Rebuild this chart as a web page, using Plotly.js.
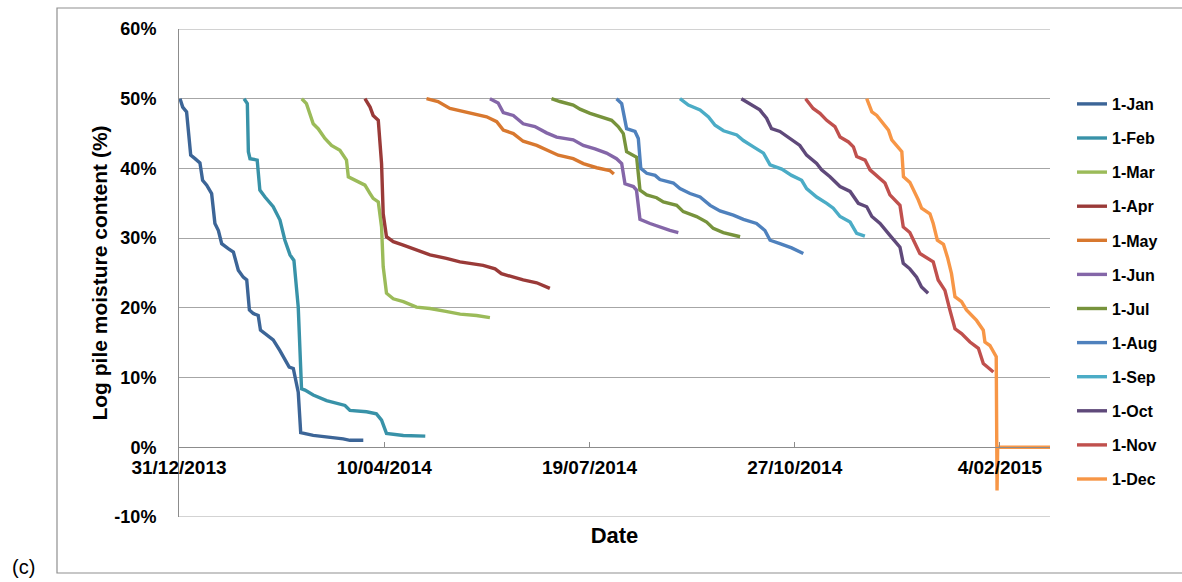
<!DOCTYPE html>
<html><head><meta charset="utf-8">
<script src="https://cdn.plot.ly/plotly-3.0.1.min.js"></script>
<style>html,body{margin:0;padding:0;background:#fff}#chart{width:1182px;height:582px}</style>
</head><body><div id="chart"></div>
<script>
// Day offsets from 31/12/2013 and moisture content (%)
const seriesNames = ['1-Jan','1-Feb','1-Mar','1-Apr','1-May','1-Jun','1-Jul','1-Aug','1-Sep','1-Oct','1-Nov','1-Dec'];
const seriesColors = ['#3C6597','#3892A8','#9BBB59','#9A3A38','#D8782F','#8466A8','#77933C','#4F81BD','#4BACC6','#5F497A','#C0504D','#F79646'];

const janDays = [0.5,1.8,3.7,5.7,7.8,10.2,11.5,13.5,15.9,17.5,19.2,20.8,24,26.5,28.9,31.3,33,34.3,36.2,38.6,39.7,42.6,45.9,49.1,51.6,53.7,55.7,57,58.1,59.3,65.4,80,83.3,89.8];
const janVals = [50,48.8,48.1,41.9,41.4,40.8,38.3,37.6,36.4,32.1,31.1,29.2,28.5,28.0,25.4,24.4,24.0,19.7,19.2,18.9,16.8,16.1,15.4,13.9,12.7,11.5,11.3,9.1,7.9,2.1,1.7,1.2,1.0,1.0];

const febDays = [31.7,33.3,33.8,34.6,38.1,39.4,41.9,45.9,49.2,51.6,54.1,56,58.1,59.7,61.4,65.4,71.9,80.9,83.3,91.4,96.2,98.7,101.1,109.3,120];
const febVals = [50,49.3,42.4,41.4,41.2,36.9,35.9,34.5,32.6,29.7,27.6,26.8,20.1,8.4,8.2,7.5,6.7,6.0,5.3,5.1,4.8,3.9,2.0,1.7,1.6];

const marDays = [59.8,62.1,65.4,67.8,71.1,74.3,78.4,81.6,82.5,85.7,90.6,93.1,94.6,97.1,98.7,99.5,101.1,104.4,109.3,115.7,122.3,130,137,145,151.5];
const marVals = [50,49.3,46.4,45.7,44.3,43.3,42.6,41.2,38.8,38.3,37.6,36.4,35.7,35.2,31.6,25.9,22.1,21.3,20.9,20.1,19.9,19.5,19.1,18.9,18.6];

const aprDays = [90.6,93.1,94.6,97.1,98.7,99.5,101.1,104.4,109.3,115.7,122.3,130.3,136.9,148.2,154,157.1,162.9,167.7,174.3,180.7];
const aprVals = [50,48.8,47.6,46.9,40.7,33.5,30.2,29.5,29.0,28.3,27.6,27.1,26.6,26.1,25.6,24.9,24.4,24.0,23.6,22.8];

const mayDays = [120.6,126.2,132,136.9,143.4,149.9,154.8,158,162.9,167.7,174.3,180.7,184.8,192.1,197,203.5,209.9,211.9];
const mayVals = [50,49.6,48.6,48.3,47.9,47.4,46.7,45.5,45.0,43.9,43.3,42.4,41.9,41.4,40.7,40.1,39.7,39.2];

const junDays = [151.5,155.5,158,162.9,167.7,173.4,179.1,184,192.1,197,202.7,208.3,213.2,215.7,217.3,221.4,222.9,224.6,229.5,234.3,239.2,243.3];
const junVals = [50,49.4,48.0,47.6,46.4,46.0,45.1,44.5,44.1,43.3,42.8,42.2,41.4,40.7,37.8,37.4,36.9,32.7,32.1,31.6,31.1,30.8];

const julDays = [181.5,185.6,192.1,195.4,200.3,205.1,210.8,214,216.5,218.1,223,224.6,227.9,232.7,236,242.5,245.7,252.2,257.1,260.3,265.2,273.4];
const julVals = [50,49.6,49.1,48.5,47.9,47.5,46.9,46.0,45.0,42.4,41.6,36.9,36.2,35.8,35.2,34.7,33.8,33.1,32.3,31.4,30.8,30.2];

const augDays = [213.2,215.7,218.1,222.2,223.8,225,227.9,232,234.3,240.9,244.1,249,253.9,258.8,263.6,270.1,275,281.4,285.5,288,292.8,298.5,304.2];
const augVals = [50,49.3,45.7,45.3,44.3,40.0,39.3,39.0,38.4,37.9,37.1,36.4,35.9,34.7,33.9,33.3,32.7,32.1,31.1,29.7,29.2,28.6,27.8];

const sepDays = [244.1,248.2,253.9,258,261.2,265.3,271.8,275,279.9,284.8,288,293.7,298.5,303.4,305.8,310.7,315.6,318.8,322.1,327,330.2,334.2];
const sepVals = [50,49.1,48.4,47.4,46.2,45.4,44.8,44.0,43.1,42.2,40.5,39.9,39.0,38.3,37.1,35.9,35.0,34.3,33.1,32.3,30.7,30.3];

const octDays = [274,278.2,283,286.3,288.7,292.8,296.8,302.5,305.8,310.7,313.1,317.2,322.1,327,331,335.1,337.6,341.6,346.4,351.3,352.9,356.1,359.4,361.8,365];
const octVals = [50,49.3,48.4,47.2,45.7,45.3,44.5,43.3,41.9,40.7,39.8,38.8,37.4,36.7,35.0,34.5,33.1,32.1,30.4,28.7,26.4,25.6,24.4,23.0,22.1];

const novDays = [305.3,309,312.3,315.6,319.6,322.1,326.2,328.6,330.2,334.3,336.7,340.8,344,346.4,351.3,352.9,356.1,361,367.5,369.9,373.2,375.6,378.1,381.3,385.4,389.5,391.9,396.8];
const novVals = [50,48.6,47.9,46.9,46.0,44.5,43.8,43.1,41.7,41.2,39.8,38.8,37.9,36.2,34.7,31.6,30.8,27.8,26.6,24.0,22.5,19.7,17.0,16.3,15.1,14.2,12.0,10.8];

const decDays = [335.1,337.6,340,343.2,345.7,347.3,349.8,352.2,353,356.1,360.2,361.8,365.9,367.5,369.5,372.5,374.5,376.4,378.1,381.3,383.7,388.6,391.9,392.7,395.1,398.2,398.6,398.9,424.4];
const decVals = [50,48.1,47.6,46.4,45.5,44.1,43.3,42.4,38.8,38.0,35.5,34.3,33.5,32.1,29.7,29.1,27.2,24.9,21.6,20.9,19.7,18.2,16.8,15.1,14.6,13.0,-6.2,0,0];

const xTickDays = [0,100,200,300,400];
const xTickLabels = ['31/12/2013','10/04/2014','19/07/2014','27/10/2014','4/02/2015'];
const yTickValues = [-10,0,10,20,30,40,50,60];
const yTickLabels = ['-10%','0%','10%','20%','30%','40%','50%','60%'];
const xEndDay = 424.4;

const allDays = [janDays,febDays,marDays,aprDays,mayDays,junDays,julDays,augDays,sepDays,octDays,novDays,decDays];
const allVals = [janVals,febVals,marVals,aprVals,mayVals,junVals,julVals,augVals,sepVals,octVals,novVals,decVals];

const BASE = Date.UTC(2013,11,31);
const DAY = 86400000;
const toX = d => BASE + d*DAY;

const FONT = 'Liberation Sans, Arial, sans-serif';
const GRID = '#A6A6A6';

const traces = seriesNames.map((n,i) => ({
  type:'scatter', mode:'lines', name:n, legendgroup:n,
  x: allDays[i].map(toX), y: allVals[i],
  line:{color:seriesColors[i], width:3.4}
}));

// plot area: left 179, right 1050, top 29, bottom 517
const L=179, R=1050, T=29, B=517, W=1182, H=582;
const px = p => (p-L)/(R-L);
const py = p => (B-p)/(B-T);

const edgeGrid = [yTickValues[0], yTickValues[yTickValues.length-1]].map(v => ({
  type:'line', xref:'paper', yref:'y', x0:0, x1:1, y0:v, y1:v,
  line:{color:GRID, width:1}, layer:'below'
}));

const layout = {
  width:W, height:H,
  margin:{l:L, r:W-R, t:T, b:H-B, pad:0},
  paper_bgcolor:'#ffffff', plot_bgcolor:'#ffffff',
  font:{family:FONT, color:'#000'},
  showlegend:true,
  legend:{x:px(1072), y:py(87), xanchor:'left', yanchor:'top',
    font:{family:FONT, size:16, weight:'bold', color:'#000'},
    tracegroupgap:10.3, bgcolor:'rgba(0,0,0,0)'},
  xaxis:{
    type:'date', range:[toX(0), toX(xEndDay)],
    anchor:'free', position:1/7,
    tickvals:xTickDays.map(toX), ticktext:xTickLabels,
    showgrid:false, zeroline:false,
    showline:true, linecolor:'#8C8C8C', linewidth:1,
    ticks:'inside', ticklen:5, tickcolor:'#8C8C8C',
    tickfont:{family:FONT, size:19, weight:'bold', color:'#000'},
    ticklabelstandoff:3,
    title:{text:'Date', font:{family:FONT, size:22, weight:'bold', color:'#000'}, standoff:50}
  },
  yaxis:{
    range:[-10,60], tickvals:yTickValues, ticktext:yTickLabels,
    showgrid:true, gridcolor:GRID, gridwidth:1,
    zeroline:false, showline:true, linecolor:'#8C8C8C', linewidth:1,
    ticks:'', ticklabelstandoff:18,
    tickfont:{family:FONT, size:18, weight:'bold', color:'#000'},
    title:{text:'Log pile moisture content (%)', font:{family:FONT, size:21, weight:'bold', color:'#000'}, standoff:1}
  },
  shapes:[{type:'rect', xref:'paper', yref:'paper', x0:px(57), x1:px(1195), y0:py(573), y1:py(8),
    line:{color:'#8F8F8F', width:1.2}, fillcolor:'rgba(0,0,0,0)', layer:'below'}].concat(edgeGrid),
  annotations:[{text:'(c)', xref:'paper', yref:'paper', x:px(23), y:py(567), showarrow:false,
    xanchor:'center', yanchor:'middle', font:{family:FONT, size:20, color:'#000'}}]
};

Plotly.newPlot('chart', traces, layout, {displayModeBar:false, staticPlot:true});
</script>
</body></html>
